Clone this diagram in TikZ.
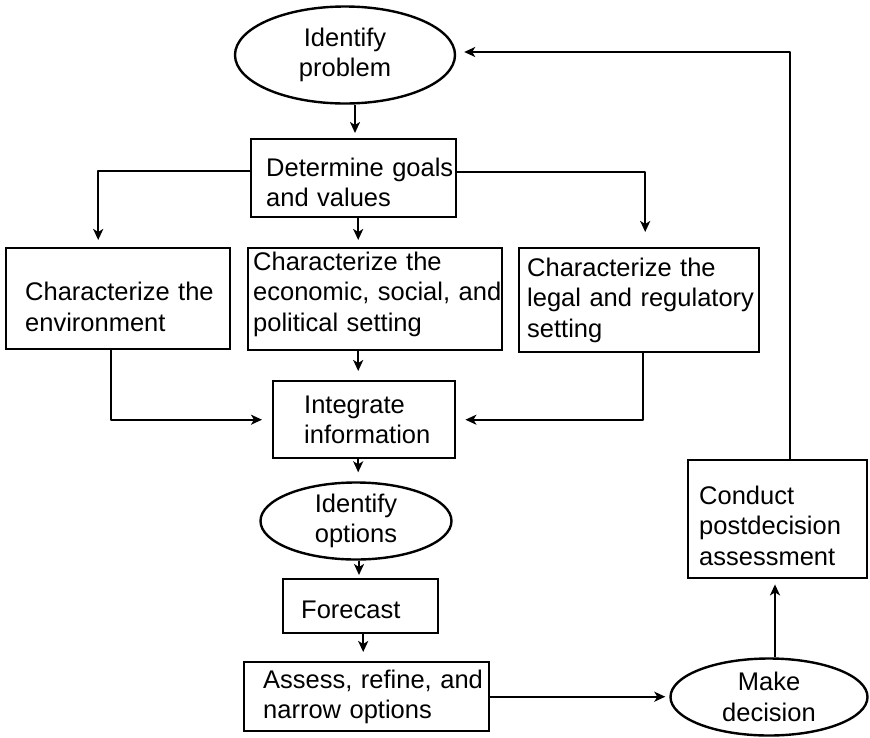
\documentclass[tikz,border=0pt]{standalone}
\usepackage{fontspec}
\setmainfont{Liberation Sans}
\usetikzlibrary{arrows.meta,shapes.geometric}
\newcommand{\oneline}[1]{\mbox{#1}}
% invisible struts that lower (tall) or raise (deep) a block of lines in its box
\newcommand{\tallstrut}[1]{\rule{0pt}{#1}}
\newcommand{\deepstrut}[1]{\rule[-#1]{0pt}{1pt}}
\begin{document}
\begin{tikzpicture}[x=1pt,y=-1pt,
  every node/.style={font=\fontsize{25.5pt}{30.5pt}\selectfont},
  stepbox/.style={draw, line width=2.4pt, align=left, anchor=north west, inner ysep=0pt},
  oval/.style={draw, ellipse, line width=2.4pt, align=center, inner sep=0pt},
  arr/.style={line width=2.4pt, line join=round, -{Stealth[length=11pt,width=10pt,inset=3pt]}}]
\useasboundingbox (0,0) rectangle (870,737);

% ovals
\node[oval, minimum width=220pt, minimum height=97pt] (problem) at (345,55) {Identify\\problem};
\node[oval, minimum width=191pt, minimum height=77pt] (options) at (356,521) {Identify\\options};
\node[oval, minimum width=197pt, minimum height=77pt] (decision) at (769,697) {Make\\decision};

% boxes
\node[stepbox, inner xsep=15pt, text width=175pt, minimum height=78pt] (goals) at (250,138) {\oneline{\tallstrut{27pt}Determine goals}\\\oneline{and values}};
\node[stepbox, inner xsep=19pt, text width=186pt, minimum height=101pt] (env) at (5,247) {\oneline{\tallstrut{35pt}Characterize the}\\\oneline{environment}};
\node[stepbox, inner xsep=5pt, text width=244pt, minimum height=102pt] (econ) at (247,247) {\oneline{Characterize the}\\\oneline{economic, social, and}\\\oneline{political setting\deepstrut{15pt}}};
\node[stepbox, inner xsep=8pt, text width=224pt, minimum height=104pt] (legal) at (518,247) {\oneline{Characterize the}\\\oneline{legal and regulatory}\\\oneline{setting}};
\node[stepbox, inner xsep=31pt, text width=120pt, minimum height=77pt] (integ) at (272,380) {\oneline{Integrate}\\\oneline{information}};
\node[stepbox, inner xsep=18pt, text width=119pt, minimum height=54pt] (forecast) at (282,578) {\oneline{\tallstrut{25pt}Forecast}};
\node[stepbox, inner xsep=19pt, text width=207pt, minimum height=69pt] (assess) at (243,661) {\oneline{Assess, refine, and}\\\oneline{narrow options}};
\node[stepbox, inner xsep=11pt, text width=157pt, minimum height=118pt] (conduct) at (687,459) {\oneline{\tallstrut{31pt}Conduct}\\\oneline{postdecision}\\\oneline{assessment}};

% connectors
\draw[arr, shorten >=5pt] ([xshift=10pt]problem.south) -- ([xshift=10pt]problem.south |- goals.north);
\draw[arr, shorten >=7pt] ([yshift=7pt]goals.west) -| ([xshift=-20pt]env.north);
\draw[arr, shorten >=7pt] ([xshift=4.5pt]goals.south) -- ([xshift=4.5pt]goals.south |- econ.north);
\draw[arr, shorten >=15pt] ([yshift=6pt]goals.east) -| ([xshift=6pt]legal.north);
\draw[arr, shorten >=10pt] ([xshift=-7pt]env.south) |- (integ.west);
\draw[arr, shorten >=9pt] ([xshift=-17pt]econ.south) -- ([xshift=-17pt]econ.south |- integ.north);
\draw[arr, shorten >=9pt] ([xshift=4pt]legal.south) |- (integ.east);
\draw[arr, shorten >=9pt] ([xshift=-6pt]integ.south) -- ([xshift=-6pt]integ.south |- options.north);
\draw[arr, shorten >=3pt] ([xshift=3pt]options.south) -- ([xshift=3pt]options.south |- forecast.north);
\draw[arr, shorten >=9pt] ([xshift=2.5pt]forecast.south) -- ([xshift=2.5pt]forecast.south |- assess.north);
\draw[arr, shorten >=4pt] (assess.east) -- (assess.east -| decision.west);
\draw[arr, shorten >=5pt] ([xshift=6pt]decision.north) -- ([xshift=6pt]decision.north |- conduct.south);
\draw[arr, shorten >=8pt] ([xshift=12.5pt]conduct.north) |- ([yshift=3pt]problem.east);
\end{tikzpicture}
\end{document}
